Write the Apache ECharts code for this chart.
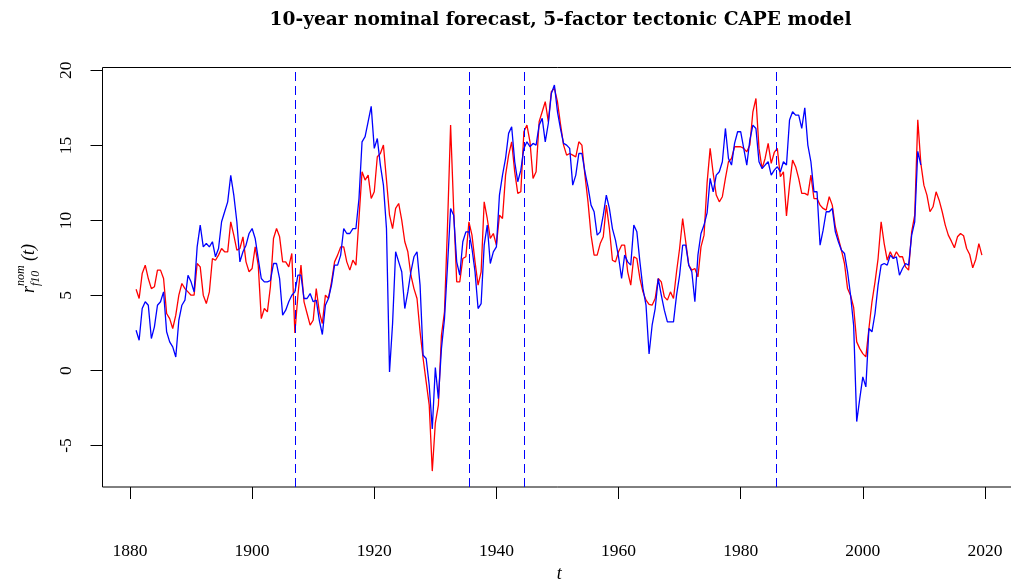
<!DOCTYPE html>
<html><head><meta charset="utf-8">
<script src="https://cdn.jsdelivr.net/npm/echarts@6/dist/echarts.min.js"></script>
<style>html,body{margin:0;padding:0;background:#fff;overflow:hidden}#c{width:1011px;height:580px}</style>
</head><body><div id="c"></div>
<script>
// half-yearly readings, starting 1881.0
const startYear = 1881.0;
const stepYears = 0.5;

const blueForecast = [
2.68,2.02,4.13,4.58,4.35,2.13,2.91,4.35,4.58,5.24,2.58,1.91,1.58,0.9,3.35,4.35,4.69,6.35,5.91,5.24,
8.24,9.69,8.24,8.46,8.24,8.58,7.58,8.13,9.91,10.58,11.24,13.0,11.69,9.91,7.24,7.91,8.35,9.13,9.46,8.80,
7.46,6.13,5.91,5.91,6.0,7.13,7.13,6.13,3.69,4.02,4.58,5.02,5.24,6.35,6.35,4.80,4.80,5.13,4.58,4.69,
3.35,2.4,4.35,4.80,5.69,7.02,7.02,7.69,9.46,9.13,9.13,9.46,9.46,11.46,15.24,15.58,16.58,17.6,14.80,15.46,
13.69,12.35,9.46,-0.1,3.13,7.91,7.24,6.58,4.13,5.24,6.58,7.58,7.91,5.69,1.02,0.80,-0.98,-3.9,0.2,-1.87,
1.46,3.46,7.02,10.8,10.35,7.24,6.35,8.58,9.24,9.24,8.13,6.58,4.13,4.46,8.35,9.69,7.13,7.91,8.24,11.69,
13.02,14.13,15.80,16.24,13.91,12.58,13.35,14.80,15.24,14.91,15.13,15.02,16.35,16.80,15.24,16.46,18.46,19.02,17.24,16.1,
15.13,15.02,14.80,12.35,13.02,14.46,14.46,13.24,12.24,11.02,10.58,9.02,9.24,10.35,11.69,10.80,9.46,8.69,7.58,6.13,
7.69,7.24,7.02,9.69,9.24,7.24,5.46,4.35,1.1,3.02,4.13,6.13,5.02,4.02,3.24,3.24,3.24,5.02,6.35,8.35,
8.35,7.02,6.58,4.58,7.69,9.13,9.69,10.5,12.8,11.91,13.02,13.24,13.91,16.13,14.13,13.69,15.13,15.91,15.91,14.80,
13.69,15.35,16.35,16.13,13.91,13.46,13.69,13.91,13.02,13.35,13.58,13.24,13.91,13.69,16.69,17.24,17.02,17.02,16.13,17.51,
15.02,13.91,11.91,11.91,8.35,9.35,10.58,10.58,10.8,9.24,8.58,8.02,7.80,6.58,5.0,3.0,-3.4,-1.87,-0.42,-1.09,
2.80,2.58,3.80,5.69,7.02,7.13,7.02,7.69,7.46,7.58,6.35,6.80,7.13,7.02,9.02,9.91,14.6,13.7
];

const redForecast = [
5.42,4.80,6.46,7.02,6.13,5.46,5.58,6.69,6.69,6.13,3.80,3.46,2.80,3.69,5.02,5.80,5.46,5.24,5.02,5.02,
7.13,6.91,5.02,4.46,5.24,7.46,7.35,7.69,8.13,7.91,7.91,9.91,9.02,8.02,8.13,8.91,7.24,6.58,6.80,8.24,
7.02,3.46,4.13,3.91,5.6,8.80,9.46,8.91,7.24,7.24,6.91,7.80,2.5,5.02,7.02,4.58,3.80,3.02,3.35,5.46,
3.91,3.13,5.02,4.80,5.91,7.24,7.69,8.24,8.24,7.24,6.69,7.35,7.02,10.13,13.24,12.69,13.02,11.46,11.91,14.24,
14.46,15.02,12.69,10.35,9.46,10.80,11.13,10.02,8.58,7.91,6.35,5.46,4.80,2.58,0.80,-0.76,-2.31,-6.7,-3.5,-2.31,
2.35,3.91,9.69,16.35,10.80,5.91,5.91,7.46,7.58,9.91,9.02,7.24,5.69,6.58,11.24,10.13,8.80,9.13,8.35,10.35,
10.13,13.02,14.35,15.24,13.24,11.80,11.91,15.91,16.35,15.24,12.80,13.24,16.58,17.24,17.91,16.58,18.58,18.80,17.91,16.4,
15.02,14.35,14.46,14.35,14.24,15.24,15.02,13.02,11.24,9.02,7.69,7.69,8.46,8.91,11.02,9.46,7.35,7.24,7.91,8.35,
8.35,6.58,5.69,7.58,7.46,6.13,5.24,4.69,4.40,4.35,4.80,6.13,5.91,4.91,4.69,5.24,4.80,6.58,8.13,10.13,
8.58,7.02,6.69,6.80,6.24,8.24,9.02,12.5,14.8,13.13,11.69,11.24,11.58,12.80,13.91,14.13,14.91,14.91,14.91,14.80,
14.57,15.02,17.24,18.13,14.80,13.46,14.13,15.13,13.80,14.53,14.80,12.91,13.24,10.3,12.35,14.02,13.58,12.80,11.80,11.80,
11.69,13.02,11.46,11.46,11.02,10.80,10.69,11.58,11.02,9.58,8.80,8.02,7.13,5.46,5.0,4.2,1.91,1.46,1.13,0.91,
2.80,4.58,5.91,7.46,9.91,8.46,7.35,7.91,7.46,7.91,7.58,7.58,6.91,6.69,9.24,10.35,16.7,13.8,12.35,11.69,
10.58,10.91,11.91,11.35,10.58,9.69,9.02,8.62,8.18,8.91,9.13,8.98,8.13,7.73,6.84,7.42,8.46,7.69
];

const breakYears = [1907.0, 1935.6, 1944.5, 1985.8];
const xTicks = [1880, 1900, 1920, 1940, 1960, 1980, 2000, 2020];
const yTicks = [-5, 0, 5, 10, 15, 20];

const titleText = '10-year nominal forecast, 5-factor tectonic CAPE model';
const xName = 't';

const toPairs = arr => arr.map((v, i) => [startYear + i * stepYears, v]);
const serif = "'Liberation Serif', 'DejaVu Serif', serif";

const chart = echarts.init(document.getElementById('c'), null, {renderer: 'canvas', width: 1011, height: 580});
chart.setOption({
  animation: false,
  backgroundColor: '#fff',
  grid: {left: 102.5, width: 913.6, top: 67.5, height: 419.5, show: true, borderColor: '#000', borderWidth: 1,
         backgroundColor: 'transparent', containLabel: false, outerBoundsMode: 'none'},
  xAxis: {
    type: 'value', min: 1875.5, max: 2025.1,
    axisLine: {show: false, onZero: false},
    splitLine: {show: false},
    axisTick: {show: true, customValues: xTicks, length: 12, lineStyle: {color: '#000', width: 1}},
    axisLabel: {customValues: xTicks, margin: 55, color: '#000', fontFamily: serif, fontSize: 17.5,
      formatter: v => String(v)},
    name: xName, nameLocation: 'middle', nameGap: 75,
    nameTextStyle: {fontFamily: serif, fontStyle: 'italic', fontSize: 18, color: '#000'}
  },
  yAxis: {
    type: 'value', min: -7.76, max: 20.19,
    axisLine: {show: false, onZero: false},
    splitLine: {show: false},
    axisTick: {show: true, customValues: yTicks, length: 12, lineStyle: {color: '#000', width: 1}},
    axisLabel: {customValues: yTicks, rotate: 90, margin: 27, color: '#000', fontFamily: serif, fontSize: 17.5,
      formatter: v => String(v)}
  },
  graphic: [
    {type: 'text', x: 560.5, y: 20, style: {text: titleText, font: "bold 18.6px 'DejaVu Serif', serif", fill: '#000', textAlign: 'center', textVerticalAlign: 'middle'}},
    {type: 'group', x: 32, y: 268, rotation: Math.PI / 2, children: [
      {type: 'text', x: -25, y: -3, style: {text: 'r', font: "italic 18px 'Liberation Serif', serif", fill: '#000', textAlign: 'left', textVerticalAlign: 'middle'}},
      {type: 'text', x: -18, y: -11, style: {text: 'nom', font: "italic 12px 'Liberation Serif', serif", fill: '#000', textAlign: 'left', textVerticalAlign: 'middle'}},
      {type: 'text', x: -18, y: 4, style: {text: 'f10', font: "italic 12px 'Liberation Serif', serif", fill: '#000', textAlign: 'left', textVerticalAlign: 'middle'}},
      {type: 'text', x: 7, y: -3, style: {text: '(t)', font: "italic 18px 'Liberation Serif', serif", fill: '#000', textAlign: 'left', textVerticalAlign: 'middle'}}
    ]}
  ],
  series: [
    {type: 'line', name: 'red', data: toPairs(redForecast), showSymbol: false, symbol: 'none',
     lineStyle: {color: '#ff0000', width: 1.3}, silent: true},
    {type: 'line', name: 'blue', data: toPairs(blueForecast), showSymbol: false, symbol: 'none',
     lineStyle: {color: '#0000ff', width: 1.3}, silent: true,
     markLine: {silent: true, symbol: ['none', 'none'], label: {show: false},
       lineStyle: {type: [9, 5], color: '#0000ff', width: 1},
       data: breakYears.map(x => ({xAxis: x}))}}
  ]
});
</script>
</body></html>
